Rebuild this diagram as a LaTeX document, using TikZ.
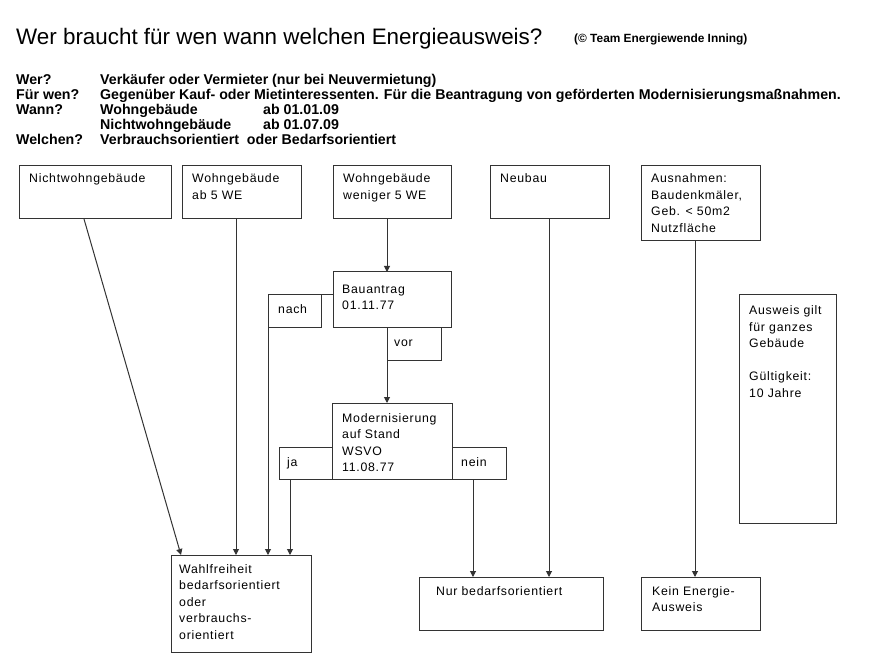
\documentclass[tikz,border=0pt]{standalone}
\usepackage{fontspec}
\setmainfont{Liberation Sans}
\newfontfamily\boxfont[LetterSpace=6]{Liberation Sans}
\usetikzlibrary{arrows.meta}
\tikzset{
  bx/.style={draw=black!80, line width=1pt, inner sep=0pt, outer sep=0pt, anchor=north west, fill=white},
  txt/.style={anchor=base west, inner sep=0pt, font=\boxfont\fontsize{12.3}{16.5}\selectfont},
  hdr/.style={anchor=base west, inner sep=0pt, font=\bfseries\fontsize{14.2}{15}\selectfont},
  arr/.style={draw=black!80, line width=1pt, -{Triangle[length=6pt,width=6pt]}},
  ln/.style={draw=black!80, line width=1pt}
}
\begin{document}
\begin{tikzpicture}[x=1pt,y=-1pt]
\useasboundingbox[fill=white] (0,0) rectangle (887,671);
% title
\node[anchor=base west, inner sep=0pt, font=\fontsize{22.4}{26}\selectfont] (title) at (16,45) {Wer braucht für wen wann welchen Energieausweis?};
\node[anchor=base west, inner sep=0pt, font=\bfseries\fontsize{11.9}{13}\selectfont] (copy) at (574,43) {(© Team Energiewende Inning)};
% header
\node[hdr] (h1a) at (16,84.5) {Wer?};
\node[hdr] (h1b) at (100,84.5) {Verkäufer oder Vermieter (nur bei Neuvermietung)};
\node[hdr] (h2a) at (16,99.5) {Für wen?};
\node[hdr] (h2b) at (100,99.5) {Gegenüber Kauf- oder Mietinteressenten. Für die Beantragung von geförderten Modernisierungsmaßnahmen.};
\node[hdr] (h3a) at (16,114.5) {Wann?};
\node[hdr] (h3b) at (100,114.5) {Wohngebäude};
\node[hdr] (h3c) at (263,114.5) {ab 01.01.09};
\node[hdr] (h4b) at (100,129.5) {Nichtwohngebäude};
\node[hdr] (h4c) at (263,129.5) {ab 01.07.09};
\node[hdr] (h5a) at (16,144.5) {Welchen?};
\node[hdr] (h5b) at (100,144.5) {Verbrauchsorientiert\ \ oder Bedarfsorientiert};
% boxes
\node[bx, minimum width=152pt, minimum height=53pt] (nwg) at (19,166) {};
\node[bx, minimum width=119pt, minimum height=53pt] (wg5) at (182,166) {};
\node[bx, minimum width=118pt, minimum height=53pt] (wgw) at (333,166) {};
\node[bx, minimum width=119pt, minimum height=53pt] (neu) at (490,166) {};
\node[bx, minimum width=119pt, minimum height=75pt] (aus) at (641,166) {};
\node[bx, minimum width=97pt, minimum height=228pt] (gilt) at (739,295) {};
\node[bx, minimum width=118pt, minimum height=56pt] (bau) at (333,272) {};
\node[bx, minimum width=53pt, minimum height=33pt] (nach) at (268,295) {};
\node[bx, minimum width=54pt, minimum height=32pt] (vor) at (387,328) {};
\node[bx, minimum width=120pt, minimum height=76pt] (mod) at (332,403) {};
\node[bx, minimum width=53pt, minimum height=32pt] (ja) at (279,447) {};
\node[bx, minimum width=54pt, minimum height=32pt] (nein) at (452,447) {};
\node[bx, minimum width=140pt, minimum height=97pt] (wahl) at (171,555) {};
\node[bx, minimum width=184pt, minimum height=53pt] (nur) at (419,577) {};
\node[bx, minimum width=119pt, minimum height=53pt] (kein) at (641,577) {};
% texts
\node[txt] (nwgt) at (29,183) {Nichtwohngebäude};
\node[txt] (wg5t) at (192,183) {\vtop{\hbox{Wohngebäude}\hbox{ab 5 WE}}};
\node[txt] (wgwt) at (343,183) {\vtop{\hbox{Wohngebäude}\hbox{weniger 5 WE}}};
\node[txt] (neut) at (500,183) {Neubau};
\node[txt] (aust) at (651,183) {\vtop{\hbox{Ausnahmen:}\hbox{Baudenkmäler,}\hbox{Geb. < 50m2}\hbox{Nutzfläche}}};
\node[txt] (giltt) at (749,315) {\vtop{\hbox{Ausweis gilt}\hbox{für ganzes}\hbox{Gebäude}\hbox{}\hbox{Gültigkeit:}\hbox{10 Jahre}}};
\node[txt] (baut) at (342,293.5) {\vtop{\hbox{Bauantrag}\hbox{01.11.77}}};
\node[txt] (nacht) at (278,313) {nach};
\node[txt] (vort) at (394,347) {vor};
\node[txt] (modt) at (342,422) {\vtop{\hbox{Modernisierung}\hbox{auf Stand}\hbox{WSVO}\hbox{11.08.77}}};
\node[txt] (jat) at (287,466) {ja};
\node[txt] (neint) at (461,466) {nein};
\node[txt] (wahlt) at (179,573) {\vtop{\hbox{Wahlfreiheit}\hbox{bedarfsorientiert}\hbox{oder}\hbox{verbrauchs-}\hbox{orientiert}}};
\node[txt] (nurt) at (436,595) {Nur bedarfsorientiert};
\node[txt] (keint) at (652,595) {\vtop{\hbox{Kein Energie-}\hbox{Ausweis}}};
% anchor points
\coordinate (p1) at ([xshift=65pt]nwg.south west);
\coordinate (q1) at ([xshift=10pt]wahl.north west);
\coordinate (p2) at ([xshift=54pt]wg5.south west);
\coordinate (p3) at ([xshift=54pt]wgw.south west);
\coordinate (p4) at ([xshift=11pt]ja.south west);
\coordinate (p5) at ([xshift=21pt]nein.south west);
\coordinate (p6) at ([xshift=59pt]neu.south west);
\coordinate (p7) at ([xshift=54pt]aus.south west);
% connectors
\draw[arr] (p1) -- (q1);
\draw[arr] (p2) -- (p2 |- wahl.north);
\draw[arr] (p3) -- (p3 |- bau.north);
\draw[ln] (nach.north east) -- (nach.north east -| bau.west);
\draw[arr] (nach.south west) -- (nach.south west |- wahl.north);
\draw[arr] (vor.south west) -- (vor.south west |- mod.north);
\draw[arr] (p4) -- (p4 |- wahl.north);
\draw[arr] (p5) -- (p5 |- nur.north);
\draw[arr] (p6) -- (p6 |- nur.north);
\draw[arr] (p7) -- (p7 |- kein.north);
\end{tikzpicture}
\end{document}
